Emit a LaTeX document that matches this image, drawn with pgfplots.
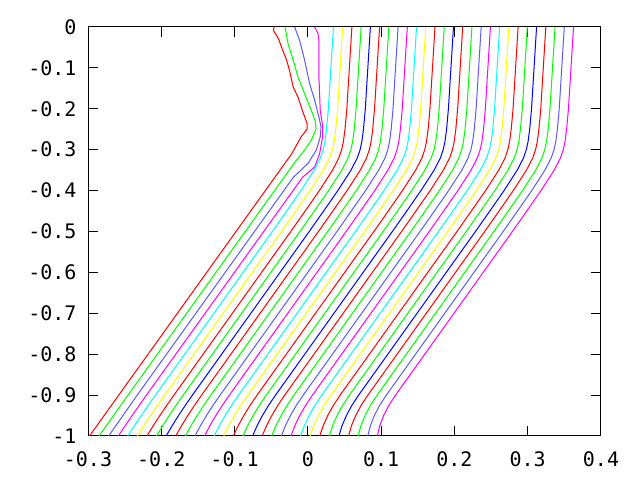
\documentclass[border=0pt]{standalone}
\usepackage{fontspec}
\setmainfont{DejaVu Sans Mono}
\usepackage{pgfplots}
\pgfplotsset{compat=1.18}
\definecolor{c0}{RGB}{255,0,0}
\definecolor{c1}{RGB}{0,255,0}
\definecolor{c2}{RGB}{90,90,255}
\definecolor{c3}{RGB}{255,0,255}
\definecolor{c4}{RGB}{0,255,255}
\definecolor{c5}{RGB}{255,255,0}
\definecolor{c6}{RGB}{255,0,0}
\definecolor{c7}{RGB}{0,255,0}
\definecolor{c8}{RGB}{0,0,255}
\begin{document}
\begin{tikzpicture}
\path[use as bounding box] (0,0) rectangle (640bp,480bp);
\begin{axis}[
  at={(88bp,44bp)}, anchor=south west, scale only axis,
  width=513bp, height=409bp,
  xmin=-0.3, xmax=0.4, ymin=-1, ymax=0,
  xtick={-0.3,-0.2,-0.1,0,0.1,0.2,0.3,0.4},
  xticklabels={-0.3,-0.2,-0.1,0,0.1,0.2,0.3,0.4},
  ytick={-1,-0.9,-0.8,-0.7,-0.6,-0.5,-0.4,-0.3,-0.2,-0.1,0},
  yticklabels={-1,-0.9,-0.8,-0.7,-0.6,-0.5,-0.4,-0.3,-0.2,-0.1,0},
  tick align=inside, xtick pos=both, ytick pos=both,
  major tick length=10bp,
  axis line style={line width=1bp, black},
  every tick/.style={black, line width=1bp},
  ticklabel style={font=\fontsize{20bp}{24bp}\selectfont},
  xticklabel style={yshift=-12bp},
  yticklabel style={xshift=-8bp},
  every axis plot/.append style={line width=1bp, no markers, sharp plot},
]
% line 0
\addplot[c0] coordinates {(-0.046,0) (-0.047,-0.008) (-0.040,-0.029) (-0.036,-0.049) (-0.029,-0.081) (-0.025,-0.106) (-0.020,-0.147) (-0.0135,-0.171) (-0.0067,-0.208) (-0.001,-0.236) (-0.001,-0.250) (-0.009,-0.268) (-0.022,-0.310) (-0.058,-0.40) (-0.098,-0.5) (-0.258,-0.9) (-0.298,-1)};
% line 1
\addplot[c1] coordinates {(-0.031,0) (-0.027,-0.041) (-0.020,-0.081) (-0.0135,-0.122) (-0.0044,-0.163) (0.0047,-0.204) (0.0105,-0.232) (0.0110,-0.250) (0.0047,-0.277) (-0.0044,-0.301) (-0.0174,-0.33) (-0.0454,-0.4) (-0.0854,-0.5) (-0.2454,-0.9) (-0.2850,-1)};
% line 2
\addplot[c2] coordinates {(-0.018,0) (-0.0112,-0.033) (-0.0044,-0.081) (0.0025,-0.139) (0.0093,-0.179) (0.0151,-0.220) (0.0180,-0.2445) (0.0169,-0.269) (0.0115,-0.301) (0.0000,-0.334) (-0.0196,-0.367) (-0.0328,-0.40) (-0.0728,-0.5) (-0.2328,-0.9) (-0.2718,-1)};
% line 3
\addplot[c3] coordinates {(0.0093,0) (0.0138,-0.016) (0.0151,-0.033) (0.0151,-0.122) (0.0169,-0.204) (0.0200,-0.24) (0.0200,-0.27) (0.0160,-0.31) (0.0093,-0.342) (-0.0070,-0.367) (-0.0202,-0.40) (-0.0602,-0.5) (-0.2202,-0.9) (-0.2398,-0.95) (-0.2587,-1)};
% line 4
\addplot[c4] coordinates {(0.0349,0) (0.0280,-0.2) (0.0255,-0.25) (0.0233,-0.28) (0.0209,-0.3) (0.0171,-0.32) (0.0085,-0.35) (-0.0095,-0.4) (-0.0289,-0.45) (-0.0485,-0.5) (-0.2079,-0.9) (-0.2178,-0.925) (-0.2274,-0.95) (-0.2368,-0.975) (-0.2458,-1)};
% line 5
\addplot[c5] coordinates {(0.0475,0) (0.0406,-0.2) (0.0381,-0.25) (0.0359,-0.28) (0.0335,-0.3) (0.0297,-0.32) (0.0211,-0.35) (0.0031,-0.4) (-0.0163,-0.45) (-0.0359,-0.5) (-0.1953,-0.9) (-0.2051,-0.925) (-0.2147,-0.95) (-0.2239,-0.975) (-0.2327,-1)};
% line 6
\addplot[c6] coordinates {(0.0601,0) (0.0532,-0.2) (0.0507,-0.25) (0.0485,-0.28) (0.0461,-0.3) (0.0423,-0.32) (0.0337,-0.35) (0.0157,-0.4) (-0.0037,-0.45) (-0.0233,-0.5) (-0.1827,-0.9) (-0.1925,-0.925) (-0.2019,-0.95) (-0.2110,-0.975) (-0.2196,-1)};
% line 7
\addplot[c7] coordinates {(0.0727,0) (0.0658,-0.2) (0.0633,-0.25) (0.0611,-0.28) (0.0587,-0.3) (0.0549,-0.32) (0.0463,-0.35) (0.0283,-0.4) (0.0089,-0.45) (-0.0107,-0.5) (-0.1701,-0.9) (-0.1799,-0.925) (-0.1892,-0.95) (-0.1981,-0.975) (-0.2065,-1)};
% line 8
\addplot[c8] coordinates {(0.0853,0) (0.0784,-0.2) (0.0759,-0.25) (0.0737,-0.28) (0.0713,-0.3) (0.0675,-0.32) (0.0589,-0.35) (0.0409,-0.4) (0.0215,-0.45) (0.0019,-0.5) (-0.1575,-0.9) (-0.1672,-0.925) (-0.1765,-0.95) (-0.1852,-0.975) (-0.1934,-1)};
% line 9
\addplot[c0] coordinates {(0.0979,0) (0.0910,-0.2) (0.0885,-0.25) (0.0863,-0.28) (0.0839,-0.3) (0.0801,-0.32) (0.0715,-0.35) (0.0535,-0.4) (0.0341,-0.45) (0.0145,-0.5) (-0.1449,-0.9) (-0.1546,-0.925) (-0.1638,-0.95) (-0.1724,-0.975) (-0.1803,-1)};
% line 10
\addplot[c1] coordinates {(0.1105,0) (0.1036,-0.2) (0.1011,-0.25) (0.0989,-0.28) (0.0965,-0.3) (0.0927,-0.32) (0.0841,-0.35) (0.0661,-0.4) (0.0467,-0.45) (0.0271,-0.5) (-0.1323,-0.9) (-0.1420,-0.925) (-0.1510,-0.95) (-0.1595,-0.975) (-0.1672,-1)};
% line 11
\addplot[c2] coordinates {(0.1231,0) (0.1162,-0.2) (0.1137,-0.25) (0.1115,-0.28) (0.1091,-0.3) (0.1053,-0.32) (0.0967,-0.35) (0.0787,-0.4) (0.0593,-0.45) (0.0397,-0.5) (-0.1197,-0.9) (-0.1294,-0.925) (-0.1383,-0.95) (-0.1466,-0.975) (-0.1541,-1)};
% line 12
\addplot[c3] coordinates {(0.1357,0) (0.1288,-0.2) (0.1263,-0.25) (0.1241,-0.28) (0.1217,-0.3) (0.1179,-0.32) (0.1093,-0.35) (0.0913,-0.4) (0.0719,-0.45) (0.0523,-0.5) (-0.1071,-0.9) (-0.1167,-0.925) (-0.1256,-0.95) (-0.1337,-0.975) (-0.1410,-1)};
% line 13
\addplot[c4] coordinates {(0.1483,0) (0.1414,-0.2) (0.1389,-0.25) (0.1367,-0.28) (0.1343,-0.3) (0.1305,-0.32) (0.1219,-0.35) (0.1039,-0.4) (0.0845,-0.45) (0.0649,-0.5) (-0.0945,-0.9) (-0.1041,-0.925) (-0.1129,-0.95) (-0.1208,-0.975) (-0.1279,-1)};
% line 14
\addplot[c5] coordinates {(0.1609,0) (0.1540,-0.2) (0.1515,-0.25) (0.1493,-0.28) (0.1469,-0.3) (0.1431,-0.32) (0.1345,-0.35) (0.1165,-0.4) (0.0971,-0.45) (0.0775,-0.5) (-0.0819,-0.9) (-0.0915,-0.925) (-0.1001,-0.95) (-0.1080,-0.975) (-0.1148,-1)};
% line 15
\addplot[c6] coordinates {(0.1735,0) (0.1666,-0.2) (0.1641,-0.25) (0.1619,-0.28) (0.1595,-0.3) (0.1557,-0.32) (0.1471,-0.35) (0.1291,-0.4) (0.1097,-0.45) (0.0901,-0.5) (-0.0693,-0.9) (-0.0788,-0.925) (-0.0874,-0.95) (-0.0951,-0.975) (-0.1017,-1)};
% line 16
\addplot[c7] coordinates {(0.1861,0) (0.1792,-0.2) (0.1767,-0.25) (0.1745,-0.28) (0.1721,-0.3) (0.1683,-0.32) (0.1597,-0.35) (0.1417,-0.4) (0.1223,-0.45) (0.1027,-0.5) (-0.0567,-0.9) (-0.0662,-0.925) (-0.0747,-0.95) (-0.0822,-0.975) (-0.0886,-1)};
% line 17
\addplot[c8] coordinates {(0.1987,0) (0.1918,-0.2) (0.1893,-0.25) (0.1871,-0.28) (0.1847,-0.3) (0.1809,-0.32) (0.1723,-0.35) (0.1543,-0.4) (0.1349,-0.45) (0.1153,-0.5) (-0.0441,-0.9) (-0.0536,-0.925) (-0.0620,-0.95) (-0.0693,-0.975) (-0.0755,-1)};
% line 18
\addplot[c0] coordinates {(0.2113,0) (0.2044,-0.2) (0.2019,-0.25) (0.1997,-0.28) (0.1973,-0.3) (0.1935,-0.32) (0.1849,-0.35) (0.1669,-0.4) (0.1475,-0.45) (0.1279,-0.5) (-0.0315,-0.9) (-0.0409,-0.925) (-0.0492,-0.95) (-0.0564,-0.975) (-0.0624,-1)};
% line 19
\addplot[c1] coordinates {(0.2239,0) (0.2170,-0.2) (0.2145,-0.25) (0.2123,-0.28) (0.2099,-0.3) (0.2061,-0.32) (0.1975,-0.35) (0.1795,-0.4) (0.1601,-0.45) (0.1405,-0.5) (-0.0189,-0.9) (-0.0283,-0.925) (-0.0365,-0.95) (-0.0436,-0.975) (-0.0493,-1)};
% line 20
\addplot[c2] coordinates {(0.2365,0) (0.2296,-0.2) (0.2271,-0.25) (0.2249,-0.28) (0.2225,-0.3) (0.2187,-0.32) (0.2101,-0.35) (0.1921,-0.4) (0.1727,-0.45) (0.1531,-0.5) (-0.0063,-0.9) (-0.0157,-0.925) (-0.0238,-0.95) (-0.0307,-0.975) (-0.0362,-1)};
% line 21
\addplot[c3] coordinates {(0.2491,0) (0.2422,-0.2) (0.2397,-0.25) (0.2375,-0.28) (0.2351,-0.3) (0.2313,-0.32) (0.2227,-0.35) (0.2047,-0.4) (0.1853,-0.45) (0.1657,-0.5) (0.0063,-0.9) (-0.0030,-0.925) (-0.0111,-0.95) (-0.0178,-0.975) (-0.0231,-1)};
% line 22
\addplot[c4] coordinates {(0.2617,0) (0.2548,-0.2) (0.2523,-0.25) (0.2501,-0.28) (0.2477,-0.3) (0.2439,-0.32) (0.2353,-0.35) (0.2173,-0.4) (0.1979,-0.45) (0.1783,-0.5) (0.0189,-0.9) (0.0096,-0.925) (0.0017,-0.95) (-0.0049,-0.975) (-0.0100,-1)};
% line 23
\addplot[c5] coordinates {(0.2743,0) (0.2674,-0.2) (0.2649,-0.25) (0.2627,-0.28) (0.2603,-0.3) (0.2565,-0.32) (0.2479,-0.35) (0.2299,-0.4) (0.2105,-0.45) (0.1909,-0.5) (0.0315,-0.9) (0.0222,-0.925) (0.0144,-0.95) (0.0080,-0.975) (0.0031,-1)};
% line 24
\addplot[c6] coordinates {(0.2869,0) (0.2800,-0.2) (0.2775,-0.25) (0.2753,-0.28) (0.2729,-0.3) (0.2691,-0.32) (0.2605,-0.35) (0.2425,-0.4) (0.2231,-0.45) (0.2035,-0.5) (0.0441,-0.9) (0.0349,-0.925) (0.0271,-0.95) (0.0209,-0.975) (0.0162,-1)};
% line 25
\addplot[c7] coordinates {(0.2995,0) (0.2926,-0.2) (0.2901,-0.25) (0.2879,-0.28) (0.2855,-0.3) (0.2817,-0.32) (0.2731,-0.35) (0.2551,-0.4) (0.2357,-0.45) (0.2161,-0.5) (0.0567,-0.9) (0.0475,-0.925) (0.0398,-0.95) (0.0337,-0.975) (0.0293,-1)};
% line 26
\addplot[c8] coordinates {(0.3121,0) (0.3052,-0.2) (0.3027,-0.25) (0.3005,-0.28) (0.2981,-0.3) (0.2943,-0.32) (0.2857,-0.35) (0.2677,-0.4) (0.2483,-0.45) (0.2287,-0.5) (0.0693,-0.9) (0.0601,-0.925) (0.0526,-0.95) (0.0466,-0.975) (0.0424,-1)};
% line 27
\addplot[c0] coordinates {(0.3247,0) (0.3178,-0.2) (0.3153,-0.25) (0.3131,-0.28) (0.3107,-0.3) (0.3069,-0.32) (0.2983,-0.35) (0.2803,-0.4) (0.2609,-0.45) (0.2413,-0.5) (0.0819,-0.9) (0.0727,-0.925) (0.0653,-0.95) (0.0595,-0.975) (0.0555,-1)};
% line 28
\addplot[c1] coordinates {(0.3373,0) (0.3304,-0.2) (0.3279,-0.25) (0.3257,-0.28) (0.3233,-0.3) (0.3195,-0.32) (0.3109,-0.35) (0.2929,-0.4) (0.2735,-0.45) (0.2539,-0.5) (0.0945,-0.9) (0.0854,-0.925) (0.0780,-0.95) (0.0724,-0.975) (0.0686,-1)};
% line 29
\addplot[c2] coordinates {(0.3499,0) (0.3430,-0.2) (0.3405,-0.25) (0.3383,-0.28) (0.3359,-0.3) (0.3321,-0.32) (0.3235,-0.35) (0.3055,-0.4) (0.2861,-0.45) (0.2665,-0.5) (0.1071,-0.9) (0.0980,-0.925) (0.0907,-0.95) (0.0853,-0.975) (0.0817,-1)};
% line 30
\addplot[c3] coordinates {(0.3625,0) (0.3556,-0.2) (0.3531,-0.25) (0.3509,-0.28) (0.3485,-0.3) (0.3447,-0.32) (0.3361,-0.35) (0.3181,-0.4) (0.2987,-0.45) (0.2791,-0.5) (0.1197,-0.9) (0.1106,-0.925) (0.1034,-0.95) (0.0981,-0.975) (0.0948,-1)};
\end{axis}
\end{tikzpicture}
\end{document}
